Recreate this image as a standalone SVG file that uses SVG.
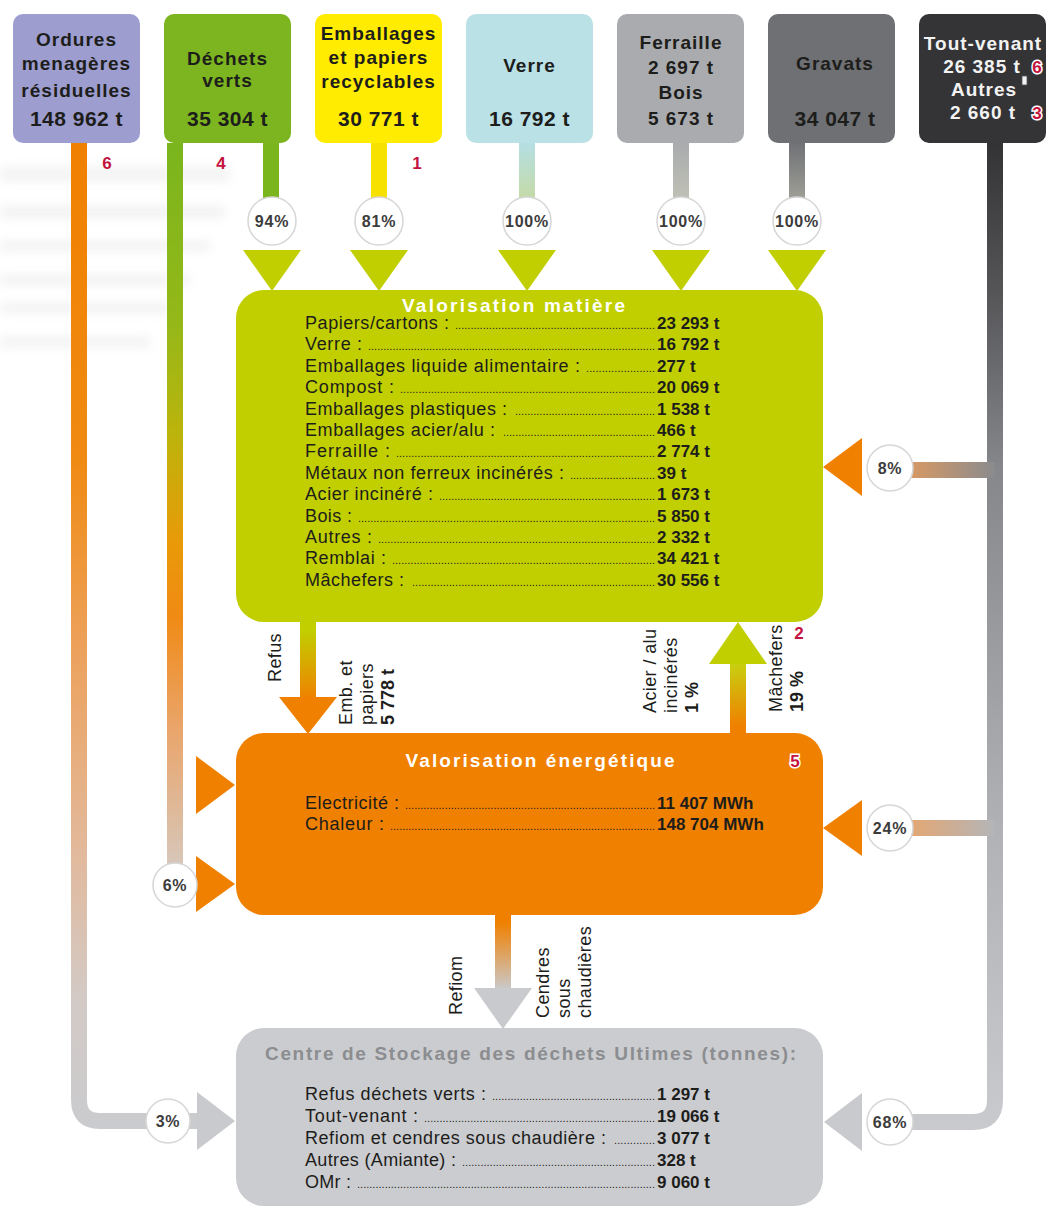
<svg xmlns="http://www.w3.org/2000/svg" width="1047" height="1208" viewBox="0 0 1047 1208">
<defs>
<style>
text{font-family:"Liberation Sans",Arial,sans-serif}
.bl{font-weight:bold;font-size:19px;letter-spacing:1px;text-anchor:middle;fill:#1d1d1b}
.bn{font-weight:bold;font-size:21px;letter-spacing:0.5px;text-anchor:middle;fill:#1d1d1b}
.wt{fill:#f2f2f2}
.red{font-weight:bold;font-size:17px;fill:#c4123f;text-anchor:middle}
.halo{stroke:#fff;stroke-width:3px;paint-order:stroke}
.pc{font-weight:bold;font-size:16px;letter-spacing:0.8px;text-anchor:middle;fill:#3c3c3c}
.ring{fill:#fff;stroke:#d6d6d6;stroke-width:1.5}
.rl{font-size:18px;fill:#1d1d1b}
.dt{font-size:11px;fill:#1d1d1b}
.rv{font-size:17px;font-weight:bold;fill:#1d1d1b}
.ttl{font-size:19px;font-weight:bold;fill:#fff;text-anchor:middle}
.rot{font-size:18px;letter-spacing:0.4px;fill:#1d1d1b}
.rotb{font-size:18px;font-weight:bold;fill:#1d1d1b}
.ln{fill:none;stroke-width:16}
.lime{fill:#c1cf00}
.orng{fill:#f08000}
.gry{fill:#c9cacd}
</style>
<filter id="blur" x="-20%" y="-80%" width="140%" height="260%"><feGaussianBlur stdDeviation="5"/></filter>
<linearGradient id="gOM" gradientUnits="userSpaceOnUse" x1="0" y1="143" x2="0" y2="1128">
<stop offset="0" stop-color="#f08000"/><stop offset="0.32" stop-color="#f08a12"/><stop offset="0.52" stop-color="#eca25e"/><stop offset="0.72" stop-color="#e2b99c"/><stop offset="0.87" stop-color="#d3cac6"/><stop offset="1" stop-color="#cacbce"/>
</linearGradient>
<linearGradient id="gDV" gradientUnits="userSpaceOnUse" x1="0" y1="143" x2="0" y2="870">
<stop offset="0" stop-color="#7ab51d"/><stop offset="0.25" stop-color="#95b818"/><stop offset="0.4" stop-color="#bcb40c"/><stop offset="0.55" stop-color="#e99a08"/><stop offset="0.65" stop-color="#f08a14"/><stop offset="0.8" stop-color="#eaa468"/><stop offset="1" stop-color="#d6c8bc"/>
</linearGradient>
<linearGradient id="gTV" gradientUnits="userSpaceOnUse" x1="0" y1="143" x2="0" y2="1128">
<stop offset="0" stop-color="#333336"/><stop offset="0.15" stop-color="#555558"/><stop offset="0.33" stop-color="#85878a"/><stop offset="0.7" stop-color="#b1b2b5"/><stop offset="1" stop-color="#c9cacd"/>
</linearGradient>
<linearGradient id="g8" gradientUnits="userSpaceOnUse" x1="995" y1="0" x2="905" y2="0">
<stop offset="0" stop-color="#8a8b8e"/><stop offset="1" stop-color="#dc9a62"/>
</linearGradient>
<linearGradient id="g24" gradientUnits="userSpaceOnUse" x1="995" y1="0" x2="905" y2="0">
<stop offset="0" stop-color="#b4b5b8"/><stop offset="1" stop-color="#e6a66e"/>
</linearGradient>
<linearGradient id="gVe" gradientUnits="userSpaceOnUse" x1="0" y1="143" x2="0" y2="205">
<stop offset="0" stop-color="#b5dfe4"/><stop offset="1" stop-color="#c6d99e"/>
</linearGradient>
<linearGradient id="gFe" gradientUnits="userSpaceOnUse" x1="0" y1="143" x2="0" y2="205">
<stop offset="0" stop-color="#a9abae"/><stop offset="1" stop-color="#c2c3b5"/>
</linearGradient>
<linearGradient id="gGr" gradientUnits="userSpaceOnUse" x1="0" y1="143" x2="0" y2="205">
<stop offset="0" stop-color="#6f7175"/><stop offset="1" stop-color="#a3a49a"/>
</linearGradient>
<linearGradient id="gRe" gradientUnits="userSpaceOnUse" x1="0" y1="622" x2="0" y2="700">
<stop offset="0.1" stop-color="#c1cf00"/><stop offset="1" stop-color="#f08000"/>
</linearGradient>
<linearGradient id="gMa" gradientUnits="userSpaceOnUse" x1="0" y1="733" x2="0" y2="664">
<stop offset="0.1" stop-color="#f08000"/><stop offset="1" stop-color="#c8cf10"/>
</linearGradient>
<linearGradient id="gRf" gradientUnits="userSpaceOnUse" x1="0" y1="915" x2="0" y2="990">
<stop offset="0.1" stop-color="#f08000"/><stop offset="1" stop-color="#c9cacd"/>
</linearGradient>
</defs>
<rect width="1047" height="1208" fill="#ffffff"/>
<g id="ghost" filter="url(#blur)" fill="#e0e0e0" opacity="0.35">
<rect x="0" y="166" width="230" height="16"/>
<rect x="0" y="205" width="225" height="14"/>
<rect x="0" y="240" width="210" height="12"/>
<rect x="0" y="274" width="190" height="12"/>
<rect x="0" y="302" width="170" height="12"/>
<rect x="0" y="336" width="150" height="12"/>
</g>
<g id="connectors">
<path class="ln" d="M79 143 V1100 Q79 1121 100 1121 H200" stroke="url(#gOM)" stroke-width="15"/>
<path class="ln" d="M175 143 V880" stroke="url(#gDV)"/>
<path class="ln" d="M271 143 V222" stroke="#7ab51d"/>
<path class="ln" d="M379 143 V222" stroke="#f7e100"/>
<path class="ln" d="M527 143 V222" stroke="url(#gVe)"/>
<path class="ln" d="M681 143 V222" stroke="url(#gFe)"/>
<path class="ln" d="M797 143 V222" stroke="url(#gGr)"/>
<path class="ln" d="M995 143 V1100 Q995 1122 973 1122 H880" stroke="url(#gTV)"/>
<path class="ln" d="M995 470 H880" stroke="url(#g8)"/>
<path class="ln" d="M995 828 H880" stroke="url(#g24)"/>
<path class="ln" d="M308 620 V700" stroke="url(#gRe)"/>
<path class="ln" d="M738 735 V660" stroke="url(#gMa)"/>
<path class="ln" d="M503 913 V990" stroke="url(#gRf)"/>
</g>
<g id="node-ordures">
<rect x="13" y="14" width="127" height="129" rx="10" fill="#9d9dcf"/>
<text class="bl" x="76.5" y="46">Ordures</text>
<text class="bl" x="76.5" y="70">menagères</text>
<text class="bl" x="76.5" y="97">résiduelles</text>
<text class="bn" x="76.5" y="126">148 962 t</text>
<text class="red" x="107" y="169">6</text>
</g>
<g id="node-dechets-verts">
<rect x="164" y="14" width="127" height="129" rx="10" fill="#7cb51f"/>
<text class="bl" x="227.5" y="65">Déchets</text>
<text class="bl" x="227.5" y="87">verts</text>
<text class="bn" x="227.5" y="126">35 304 t</text>
<text class="red" x="221" y="169">4</text>
</g>
<g id="node-emballages">
<rect x="315" y="14" width="127" height="129" rx="10" fill="#ffec00"/>
<text class="bl" x="378.5" y="40">Emballages</text>
<text class="bl" x="378.5" y="64">et papiers</text>
<text class="bl" x="378.5" y="88">recyclables</text>
<text class="bn" x="378.5" y="126">30 771 t</text>
<text class="red" x="417" y="169">1</text>
</g>
<g id="node-verre">
<rect x="466" y="14" width="127" height="129" rx="10" fill="#b9e1e6"/>
<text class="bl" x="529.5" y="72">Verre</text>
<text class="bn" x="529.5" y="126">16 792 t</text>
</g>
<g id="node-ferraille">
<rect x="617" y="14" width="127" height="129" rx="10" fill="#a9abae"/>
<text class="bl" x="681" y="49">Ferraille</text>
<text class="bl" x="681" y="74">2 697 t</text>
<text class="bl" x="681" y="99">Bois</text>
<text class="bl" x="681" y="125">5 673 t</text>
</g>
<g id="node-gravats">
<rect x="768" y="14" width="127" height="129" rx="10" fill="#6e7074"/>
<text class="bl" x="835" y="70">Gravats</text>
<text class="bn" x="835" y="126">34 047 t</text>
</g>
<g id="node-tout-venant">
<rect x="919" y="14" width="127" height="129" rx="10" fill="#343437"/>
<text class="bl wt" x="983" y="50">Tout-venant</text>
<text class="bl wt" x="982" y="73">26 385 t</text>
<text class="bl wt" x="984" y="96">Autres</text>
<text class="bl wt" x="983" y="119">2 660 t</text>
<rect x="1022" y="76" width="5" height="9" fill="#f2f2f2" stroke="#555" stroke-width="0.8"/>
<text class="red halo" x="1037" y="73" font-size="19">6</text>
<text class="red halo" x="1037" y="119" font-size="19">3</text>
</g>
<g id="node-valorisation-matiere">
<rect x="236" y="290" width="587" height="332" rx="28" fill="#c1cf00"/>
<text class="ttl" x="513.5" y="312" textLength="223" lengthAdjust="spacing">Valorisation matière</text>
<text class="rl" x="305" y="329" textLength="144" lengthAdjust="spacing">Papiers/cartons :</text>
<text class="dt" x="455" y="329" textLength="200" lengthAdjust="spacing">.................................................................</text>
<text class="rv" x="657" y="329">23 293 t</text>
<text class="rl" x="305" y="350.4" textLength="57" lengthAdjust="spacing">Verre :</text>
<text class="dt" x="368" y="350.4" textLength="287" lengthAdjust="spacing">..............................................................................................</text>
<text class="rv" x="657" y="350.4">16 792 t</text>
<text class="rl" x="305" y="371.8" textLength="275" lengthAdjust="spacing">Emballages liquide alimentaire :</text>
<text class="dt" x="586" y="371.8" textLength="69" lengthAdjust="spacing">......................</text>
<text class="rv" x="657" y="371.8">277 t</text>
<text class="rl" x="305" y="393.2" textLength="89" lengthAdjust="spacing">Compost :</text>
<text class="dt" x="400" y="393.2" textLength="255" lengthAdjust="spacing">...................................................................................</text>
<text class="rv" x="657" y="393.2">20 069 t</text>
<text class="rl" x="305" y="414.6" textLength="202" lengthAdjust="spacing">Emballages plastiques :</text>
<text class="dt" x="515" y="414.6" textLength="140" lengthAdjust="spacing">..............................................</text>
<text class="rv" x="657" y="414.6">1 538 t</text>
<text class="rl" x="305" y="436" textLength="190" lengthAdjust="spacing">Emballages acier/alu :</text>
<text class="dt" x="503" y="436" textLength="152" lengthAdjust="spacing">..................................................</text>
<text class="rv" x="657" y="436">466 t</text>
<text class="rl" x="305" y="457.4" textLength="85" lengthAdjust="spacing">Ferraille :</text>
<text class="dt" x="396" y="457.4" textLength="259" lengthAdjust="spacing">.....................................................................................</text>
<text class="rv" x="657" y="457.4">2 774 t</text>
<text class="rl" x="305" y="478.8" textLength="259" lengthAdjust="spacing">Métaux non ferreux incinérés :</text>
<text class="dt" x="570" y="478.8" textLength="85" lengthAdjust="spacing">............................</text>
<text class="rv" x="657" y="478.8">39 t</text>
<text class="rl" x="305" y="500.2" textLength="128" lengthAdjust="spacing">Acier incinéré :</text>
<text class="dt" x="439" y="500.2" textLength="216" lengthAdjust="spacing">.......................................................................</text>
<text class="rv" x="657" y="500.2">1 673 t</text>
<text class="rl" x="305" y="521.6" textLength="47" lengthAdjust="spacing">Bois :</text>
<text class="dt" x="358" y="521.6" textLength="297" lengthAdjust="spacing">.................................................................................................</text>
<text class="rv" x="657" y="521.6">5 850 t</text>
<text class="rl" x="305" y="543" textLength="67" lengthAdjust="spacing">Autres :</text>
<text class="dt" x="378" y="543" textLength="277" lengthAdjust="spacing">..........................................................................................</text>
<text class="rv" x="657" y="543">2 332 t</text>
<text class="rl" x="305" y="564.4" textLength="81" lengthAdjust="spacing">Remblai :</text>
<text class="dt" x="392" y="564.4" textLength="263" lengthAdjust="spacing">......................................................................................</text>
<text class="rv" x="657" y="564.4">34 421 t</text>
<text class="rl" x="305" y="585.8" textLength="99" lengthAdjust="spacing">Mâchefers :</text>
<text class="dt" x="412" y="585.8" textLength="243" lengthAdjust="spacing">...............................................................................</text>
<text class="rv" x="657" y="585.8">30 556 t</text>
</g>
<g id="node-valorisation-energetique">
<rect x="236" y="733" width="587" height="182" rx="28" fill="#f08000"/>
<text class="ttl" x="540" y="767" textLength="269" lengthAdjust="spacing">Valorisation énergétique</text>
<text class="red halo" x="795" y="767" font-size="19">5</text>
<text class="rl" x="305" y="809" textLength="94" lengthAdjust="spacing">Electricité :</text>
<text class="dt" x="405" y="809" textLength="250" lengthAdjust="spacing">..................................................................................</text>
<text class="rv" x="657" y="809">11 407 MWh</text>
<text class="rl" x="305" y="830" textLength="79" lengthAdjust="spacing">Chaleur :</text>
<text class="dt" x="390" y="830" textLength="265" lengthAdjust="spacing">.......................................................................................</text>
<text class="rv" x="657" y="830">148 704 MWh</text>
</g>
<g id="node-centre-stockage">
<rect x="236" y="1028" width="587" height="178" rx="28" fill="#cbcccf"/>
<text class="ttl" x="530.5" y="1060" textLength="531" lengthAdjust="spacing" style="fill:#8b8d90">Centre de Stockage des déchets Ultimes (tonnes):</text>
<text class="rl" x="305" y="1100" textLength="181" lengthAdjust="spacing">Refus déchets verts :</text>
<text class="dt" x="492" y="1100" textLength="163" lengthAdjust="spacing">.....................................................</text>
<text class="rv" x="657" y="1100">1 297 t</text>
<text class="rl" x="305" y="1122" textLength="113" lengthAdjust="spacing">Tout-venant :</text>
<text class="dt" x="424" y="1122" textLength="231" lengthAdjust="spacing">...........................................................................</text>
<text class="rv" x="657" y="1122">19 066 t</text>
<text class="rl" x="305" y="1144" textLength="301" lengthAdjust="spacing">Refiom et cendres sous chaudière :</text>
<text class="dt" x="614" y="1144" textLength="41" lengthAdjust="spacing">.............</text>
<text class="rv" x="657" y="1144">3 077 t</text>
<text class="rl" x="305" y="1166" textLength="151" lengthAdjust="spacing">Autres (Amiante) :</text>
<text class="dt" x="462" y="1166" textLength="193" lengthAdjust="spacing">...............................................................</text>
<text class="rv" x="657" y="1166">328 t</text>
<text class="rl" x="305" y="1188" textLength="46" lengthAdjust="spacing">OMr :</text>
<text class="dt" x="357" y="1188" textLength="298" lengthAdjust="spacing">.................................................................................................</text>
<text class="rv" x="657" y="1188">9 060 t</text>
</g>
<g id="arrows">
<polygon class="lime" points="243,250 301,250 272,291"/>
<polygon class="lime" points="350,250 408,250 379,291"/>
<polygon class="lime" points="498,250 556,250 527,291"/>
<polygon class="lime" points="652,250 710,250 681,291"/>
<polygon class="lime" points="768,250 826,250 797,291"/>
<polygon class="orng" points="279,697 337,697 308,734"/>
<polygon class="lime" points="709,664 767,664 738,622"/>
<polygon class="orng" points="196,756 196,814 235,785"/>
<polygon class="orng" points="196,856 196,912 235,884"/>
<polygon class="orng" points="862,438 862,496 823,467"/>
<polygon class="orng" points="862,800 862,856 823,828"/>
<polygon class="gry" points="474,988 532,988 503,1029"/>
<polygon class="gry" points="197,1092 197,1150 235,1121"/>
<polygon class="gry" points="862,1093 862,1151 824,1122"/>
</g>
<g id="labels">
<g id="pct-94"><circle class="ring" cx="272" cy="221" r="24"/><text class="pc" x="272" y="227">94%</text></g>
<g id="pct-81"><circle class="ring" cx="379" cy="221" r="24"/><text class="pc" x="379" y="227">81%</text></g>
<g id="pct-verre"><circle class="ring" cx="527" cy="221" r="24"/><text class="pc" x="527" y="227">100%</text></g>
<g id="pct-ferraille"><circle class="ring" cx="681" cy="221" r="24"/><text class="pc" x="681" y="227">100%</text></g>
<g id="pct-gravats"><circle class="ring" cx="797" cy="221" r="24"/><text class="pc" x="797" y="227">100%</text></g>
<g id="pct-8"><circle class="ring" cx="890" cy="468" r="23"/><text class="pc" x="890" y="474">8%</text></g>
<g id="pct-24"><circle class="ring" cx="890" cy="828" r="23"/><text class="pc" x="890" y="834">24%</text></g>
<g id="pct-6"><circle class="ring" cx="175" cy="885" r="22"/><text class="pc" x="175" y="891">6%</text></g>
<g id="pct-3"><circle class="ring" cx="168" cy="1121" r="22"/><text class="pc" x="168" y="1127">3%</text></g>
<g id="pct-68"><circle class="ring" cx="890" cy="1122" r="23"/><text class="pc" x="890" y="1128">68%</text></g>
<text class="rot" transform="translate(281,682) rotate(-90)">Refus</text>
<text class="rot" transform="translate(352,725) rotate(-90)">Emb. et</text>
<text class="rot" transform="translate(373,725) rotate(-90)">papiers</text>
<text class="rotb" transform="translate(394,725) rotate(-90)">5 778 t</text>
<text class="rot" transform="translate(656,713) rotate(-90)">Acier / alu</text>
<text class="rot" transform="translate(677,713) rotate(-90)">incinérés</text>
<text class="rotb" transform="translate(698,713) rotate(-90)">1 %</text>
<text class="rot" transform="translate(782,712) rotate(-90)">Mâchefers</text>
<text class="rotb" transform="translate(803,712) rotate(-90)">19 %</text>
<text class="red" x="799" y="639">2</text>
<text class="rot" transform="translate(462,1015) rotate(-90)">Refiom</text>
<text class="rot" transform="translate(549,1018) rotate(-90)">Cendres</text>
<text class="rot" transform="translate(570,1018) rotate(-90)">sous</text>
<text class="rot" transform="translate(591,1018) rotate(-90)">chaudières</text>
</g>
</svg>
